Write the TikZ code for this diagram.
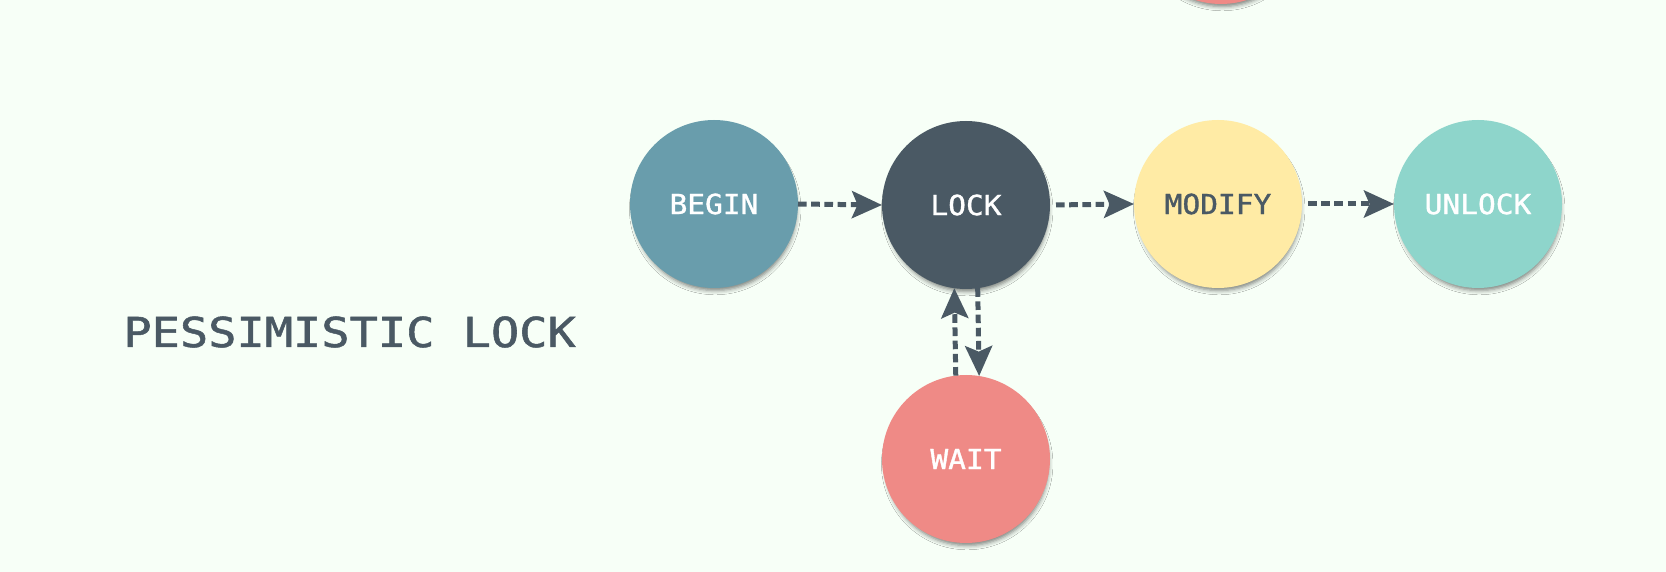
\documentclass[tikz,border=0pt]{standalone}
\usepackage{fontspec}
\usepackage{graphicx}
\setmonofont{DejaVu Sans Mono}[FakeBold=1.2]
\usetikzlibrary{arrows.meta,shadows.blur}
\definecolor{bg}{HTML}{F7FFF7}
\definecolor{dark}{HTML}{4A5964}
\definecolor{cbegin}{HTML}{699DAC}
\definecolor{clock}{HTML}{4A5964}
\definecolor{cmodify}{HTML}{FFEBA5}
\definecolor{cunlock}{HTML}{8ED5CB}
\definecolor{cwait}{HTML}{EF8A86}
\newcommand{\lbl}[1]{\scalebox{1.07}[1]{#1}}
\begin{document}
\begin{tikzpicture}[x=0.5pt,y=-0.5pt,
  state/.style={circle, minimum size=84pt, inner sep=0pt, outer sep=0pt,
    font=\ttfamily\fontsize{13.8}{16}\selectfont, text=white,
    blur shadow={shadow xshift=0.6pt, shadow yshift=-2.6pt, shadow scale=0.97, shadow blur radius=2.2pt, shadow opacity=50}},
  flow/.style={draw=dark, line width=2.5pt, dash pattern=on 4.3pt off 2.3pt,
    -{Stealth[length=15pt,width=13.5pt,inset=2.8pt]}}]
\fill[bg] (0,0) rectangle (1666,572);
\useasboundingbox (0,0) rectangle (1666,572);

\node[state, fill=cwait] (top) at (1221,-80) {};
\node[state, fill=cbegin] (begin) at (714,204) {\raisebox{-1.5pt}{\lbl{BEGIN}}};
\node[state, fill=clock] (lock) at (966,205) {\raisebox{-1.5pt}{\lbl{LOCK}}};
\node[state, fill=cmodify, text=dark] (modify) at (1218,204) {\raisebox{-1.5pt}{\lbl{MODIFY}}};
\node[state, fill=cunlock] (unlock) at (1478,204) {\raisebox{-1.5pt}{\lbl{UNLOCK}}};
\node[state, fill=cwait] (wait) at (966,459) {\raisebox{-1.5pt}{\lbl{WAIT}}};

\node[font=\ttfamily\fontsize{20.6}{24}\selectfont, text=dark, inner sep=0pt, anchor=base west] (title) at (123,347) {\scalebox{1.14}[1]{PESSIMISTIC LOCK}};

\draw[flow] (begin.east) -- (lock.west);
\draw[flow, shorten <=3pt] (lock.east) -- (modify.west);
\draw[flow, shorten <=3pt] (modify.east) -- (unlock.west);
\draw[flow] (wait.97.5) -- (lock.262.5);
\draw[flow] (lock.278.2) -- (wait.81.8);
\end{tikzpicture}
\end{document}
